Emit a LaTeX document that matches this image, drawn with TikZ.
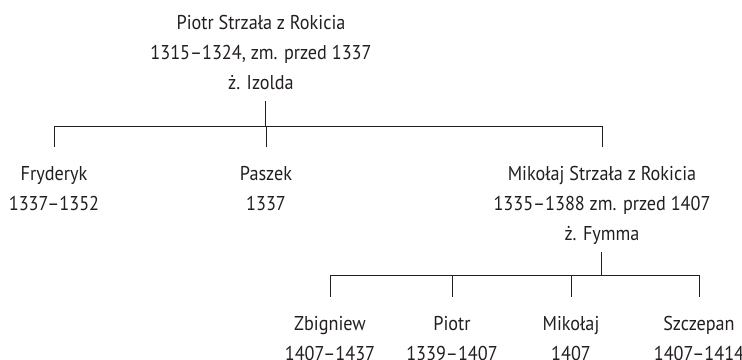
\documentclass[tikz,border=0pt]{standalone}
\usepackage{fontspec}
\setmainfont[FakeStretch=0.91]{PT Sans}
\definecolor{ink}{RGB}{35,31,32}

\begin{document}
\begin{tikzpicture}[x=1pt, y=-1pt,
    person/.style={align=center, inner sep=0pt, anchor=north, text=ink,
      font=\fontsize{20}{30}\selectfont},
    link/.style={draw=ink, line width=1pt, shorten <=3pt, shorten >=12pt}]
    \useasboundingbox (0,0) rectangle (742,359);
    \node [person] (P) at (261,8) {\strut Piotr Strzała z Rokicia\\1315–1324, zm. przed 1337\\ż. Izolda\strut};
    \node [person] (F) at (54,159) {\strut Fryderyk\\1337–1352\strut};
    \node [person] (Pa) at (266,159) {\strut Paszek\\1337\strut};
    \node [person] (M) at (602,159) {\strut Mikołaj Strzała z Rokicia\\1335–1388 zm. przed 1407\\ż. Fymma\strut};
    \node [person] (Z) at (330,309) {\strut Zbigniew\\1407–1437\strut};
    \node [person] (Pi) at (452,309) {\strut Piotr\\1339–1407\strut};
    \node [person] (Mi) at (571,309) {\strut Mikołaj\\1407\strut};
    \node [person] (S) at (699,309) {\strut Szczepan\\1407–1414\strut};
    \coordinate (B1) at (265,126);
    \coordinate (B2) at (601,275);
    \foreach \c in {F,Pa,M} \draw [link] (P.south -| B1) -- (B1) -| (\c.north);
    \foreach \c in {Z,Pi,Mi,S} \draw [link] (M.south -| B2) -- (B2) -| (\c.north);
  \end{tikzpicture}
\end{document}
